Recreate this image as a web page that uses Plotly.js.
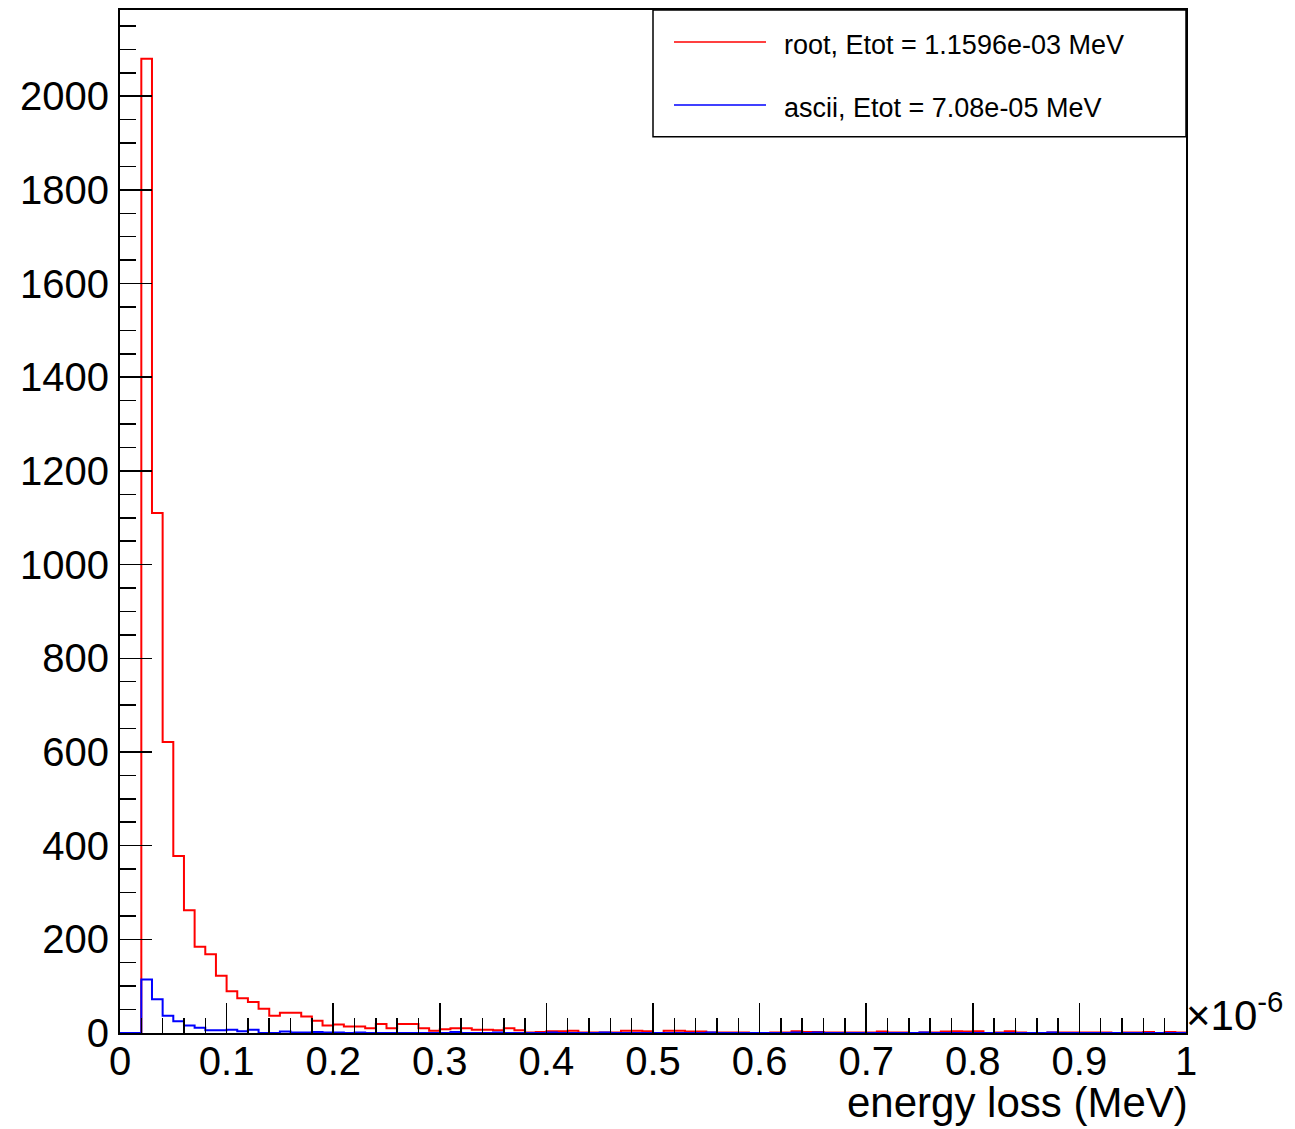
<!DOCTYPE html>
<html>
<head>
<meta charset="utf-8">
<script src="https://cdn.plot.ly/plotly-3.0.1.min.js"></script>
<style>
  html, body { margin: 0; padding: 0; background: #ffffff; }
  #chart { width: 1295px; height: 1129px; }
</style>
</head>
<body>
<div id="chart"></div>
<script>
// Histogram: 100 bins over energy loss 0 .. 1 (x 1e-6 MeV), bin width 0.01
const binCount = 100;
const xMin = 0;
const xMax = 1;

// root, Etot = 1.1596e-03 MeV  (counts per bin)
const rootCounts = [
  0, 0, 2080, 1110, 621, 378, 262, 184, 168, 122,
  89, 74, 66, 52, 37, 43, 43, 35, 26, 16,
  18, 14, 14, 10, 19, 10, 19, 19, 10, 5,
  8, 10, 10, 7, 7, 6, 10, 6, 1, 2,
  4, 4, 5, 1, 1, 1, 1, 5, 5, 4,
  0, 5, 5, 3, 3, 1, 1, 1, 1, 0,
  0, 1, 1, 4, 2, 2, 1, 1, 1, 1,
  1, 3, 1, 1, 0, 1, 1, 3, 4, 3,
  4, 0, 1, 4, 1, 0, 0, 1, 1, 1,
  1, 1, 1, 0, 1, 1, 2, 0, 2, 1
];

// ascii, Etot = 7.08e-05 MeV  (counts per bin)
const asciiCounts = [
  0, 0, 114, 72, 37, 25, 16, 11, 6, 6,
  7, 4, 7, 0, 0, 3, 1, 1, 2, 1,
  1, 0, 1, 0, 0, 0, 0, 0, 0, 0,
  0, 2, 0, 0, 0, 1, 0, 0, 0, 0,
  1, 0, 0, 0, 0, 1, 0, 0, 0, 0,
  0, 0, 0, 0, 0, 1, 0, 0, 0, 0,
  0, 0, 0, 1, 0, 1, 0, 0, 0, 0,
  0, 0, 0, 0, 0, 1, 0, 0, 0, 0,
  0, 0, 0, 0, 0, 0, 0, 1, 0, 0,
  0, 0, 0, 0, 0, 0, 0, 0, 0, 0
];

const seriesNames = ["root, Etot = 1.1596e-03 MeV", "ascii, Etot = 7.08e-05 MeV"];
const seriesColors = ["#ff0000", "#0000ff"];
const xTitle = "energy loss (MeV)";
const xExponent = "×10<sup>-6</sup>";

function stepXY(counts) {
  const w = (xMax - xMin) / binCount;
  const xs = [], ys = [];
  for (let i = 0; i < counts.length; i++) {
    xs.push(xMin + i * w);
    ys.push(counts[i]);
  }
  xs.push(xMax);
  ys.push(counts[counts.length - 1]);
  return {xs, ys};
}

const r = stepXY(rootCounts);
const a = stepXY(asciiCounts);

const traces = [
  {x: r.xs, y: r.ys, type: "scatter", mode: "lines", line: {shape: "hv", color: seriesColors[0], width: 2}, name: seriesNames[0], showlegend: false, hoverinfo: "skip"},
  {x: a.xs, y: a.ys, type: "scatter", mode: "lines", line: {shape: "hv", color: seriesColors[1], width: 2}, name: seriesNames[1], showlegend: false, hoverinfo: "skip"}
];

const yMax = Math.max(...rootCounts) * 1.05;
const fontFam = "Liberation Sans, Arial, Helvetica, sans-serif";

// legend drawn as box + sample lines + text (paper coordinates)
const legX0 = 0.5, legX1 = 1.0, legY0 = 0.876, legY1 = 1.0;
const legRowY = [0.9687, 0.9071];

const shapes = [
  {type: "rect", xref: "paper", yref: "paper", x0: legX0, x1: legX1, y0: legY0, y1: legY1, line: {color: "#000", width: 1.5}, fillcolor: "#ffffff", layer: "above"}
];
const annotations = [];
seriesNames.forEach((n, i) => {
  shapes.push({type: "line", xref: "paper", yref: "paper", x0: 0.5197, x1: 0.606, y0: legRowY[i], y1: legRowY[i], line: {color: seriesColors[i], width: 1.5}, layer: "above"});
  annotations.push({xref: "paper", yref: "paper", x: 0.6248, y: legRowY[i], xanchor: "left", yanchor: "middle", xshift: -4, yshift: -3, text: n, showarrow: false, font: {family: fontFam, size: 27, color: "#000"}});
});
annotations.push({xref: "paper", yref: "paper", x: 1.0, y: 0, xanchor: "right", yanchor: "top", yshift: -44, xshift: 4, text: xTitle, showarrow: false, font: {family: fontFam, size: 42, color: "#000"}});
annotations.push({xref: "paper", yref: "paper", x: 1.0, y: 0.0, xanchor: "left", yanchor: "bottom", xshift: -2, yshift: -8, text: xExponent, showarrow: false, font: {family: fontFam, size: 42, color: "#000"}});

const layout = {
  width: 1295,
  height: 1129,
  margin: {l: 120, r: 109, t: 10, b: 96, pad: 0},
  paper_bgcolor: "#ffffff",
  plot_bgcolor: "#ffffff",
  showlegend: false,
  font: {family: fontFam, color: "#000"},
  xaxis: {
    range: [xMin, xMax],
    dtick: 0.1,
    tick0: 0,
    ticks: "inside",
    ticklen: 30,
    tickwidth: 1.5,
    tickcolor: "#000",
    showgrid: false,
    zeroline: false,
    showline: true,
    linecolor: "#000",
    linewidth: 2,
    mirror: true,
    tickfont: {family: fontFam, size: 40, color: "#000"},
    ticklabelstandoff: -8,
    minor: {dtick: 0.02, ticks: "inside", ticklen: 15, tickwidth: 1.5, tickcolor: "#000", showgrid: false}
  },
  yaxis: {
    range: [0, yMax],
    dtick: 200,
    tick0: 0,
    ticks: "inside",
    ticklen: 32,
    tickwidth: 1.5,
    tickcolor: "#000",
    showgrid: false,
    zeroline: false,
    showline: true,
    linecolor: "#000",
    linewidth: 2,
    mirror: true,
    tickfont: {family: fontFam, size: 40, color: "#000"},
    ticklabelstandoff: 1,
    minor: {dtick: 50, ticks: "inside", ticklen: 16, tickwidth: 1.5, tickcolor: "#000", showgrid: false}
  },
  shapes: shapes,
  annotations: annotations
};

Plotly.newPlot("chart", traces, layout, {staticPlot: true, displayModeBar: false});
</script>
</body>
</html>
